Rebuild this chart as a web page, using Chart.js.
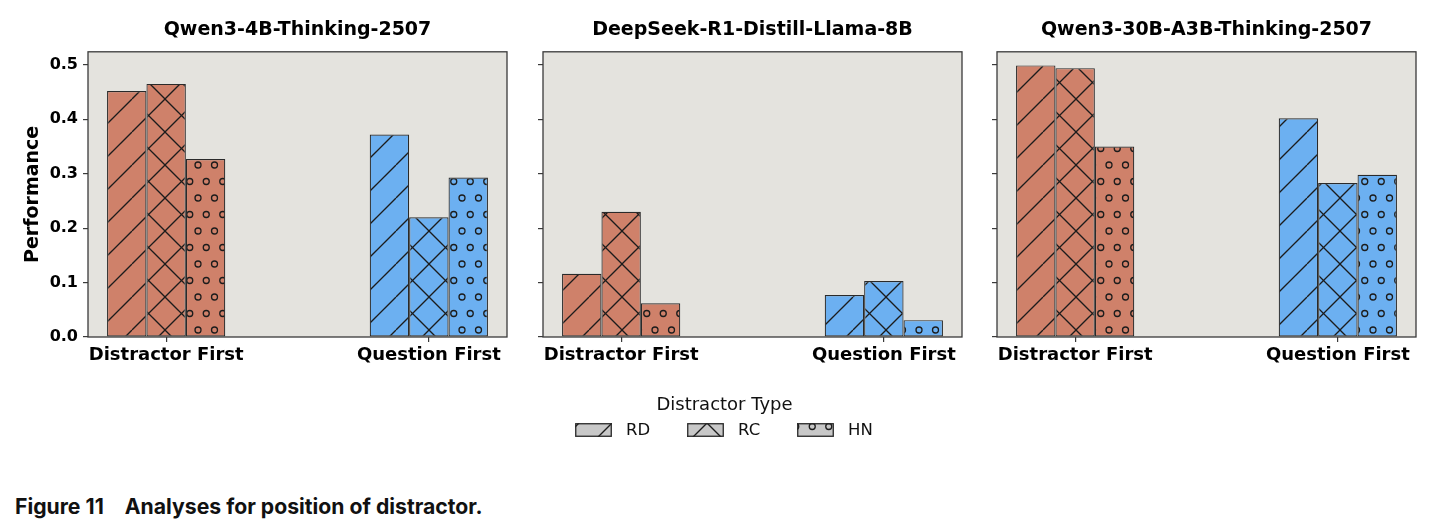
<!DOCTYPE html>
<html>
<head>
<meta charset="utf-8">
<script src="https://cdn.jsdelivr.net/npm/chart.js@4.4.1/dist/chart.umd.min.js"></script>
<style>
  html, body { margin: 0; padding: 0; background: #ffffff; }
  body { width: 1438px; height: 532px; position: relative; overflow: hidden; font-family: 'DejaVu Sans', sans-serif; }
  .panel { position: absolute; top: 0; }
  #legend { position: absolute; left: 0; top: 0; width: 1438px; height: 460px; pointer-events: none; }
  #legendTitle { position: absolute; top: 393px; left: 0; width: 1449px; text-align: center; font-size: 18px; color: #111; }
  .lgSw { position: absolute; top: 423px; }
  .lgLb { position: absolute; top: 420px; font-size: 16.5px; color: #111; }
  #caption { position: absolute; left: 15px; top: 493px; font-family: 'Inter', sans-serif; font-weight: 700; font-size: 21.2px; color: #111; white-space: nowrap; }
  #caption span.gap { display: inline-block; width: 16px; }
</style>
</head>
<body>
<canvas id="c1" class="panel" width="520" height="380" style="left:0px"></canvas>
<canvas id="c2" class="panel" width="452" height="380" style="left:523px"></canvas>
<canvas id="c3" class="panel" width="452" height="380" style="left:977px"></canvas>
<div id="legend">
  <div id="legendTitle">Distractor Type</div>
</div>
<div id="caption">Figure 11<span class="gap"></span> Analyses for position of distractor.</div>
<script>
// ---------------- data ----------------
const categories = ['Distractor First', 'Question First'];
const distractorTypes = ['RD', 'RC', 'HN'];
const modelNames = ['Qwen3-4B-Thinking-2507', 'DeepSeek-R1-Distill-Llama-8B', 'Qwen3-30B-A3B-Thinking-2507'];

// values per distractor type [RD, RC, HN]
const qwen4bDistractorFirst  = [0.452, 0.465, 0.327];
const qwen4bQuestionFirst    = [0.372, 0.220, 0.293];
const llama8bDistractorFirst = [0.116, 0.230, 0.062];
const llama8bQuestionFirst   = [0.077, 0.103, 0.031];
const qwen30bDistractorFirst = [0.499, 0.494, 0.350];
const qwen30bQuestionFirst   = [0.402, 0.283, 0.298];

const yTicks = [0.0, 0.1, 0.2, 0.3, 0.4, 0.5];

// ---------------- styling ----------------
const hatches = ['/', 'x', 'o'];
const orange = '#cf816a';
const blue = '#6cb0f1';
const plotBg = '#e4e3de';
const frameColor = '#3a3a3a';

Chart.defaults.font.family = "'DejaVu Sans', sans-serif";
Chart.defaults.color = '#111';

function makePattern(fill, kind) {
  const S = 33;
  const c = document.createElement('canvas');
  c.width = S; c.height = S;
  const g = c.getContext('2d');
  g.fillStyle = fill;
  g.fillRect(0, 0, S, S);
  g.strokeStyle = '#1c1c1c';
  g.lineWidth = 1.3;
  if (kind === '/' || kind === 'x') {
    for (const o of [-S, 0, S]) {
      g.beginPath(); g.moveTo(o, S); g.lineTo(o + S, 0); g.stroke();
    }
  }
  if (kind === 'x') {
    for (const o of [-S, 0, S]) {
      g.beginPath(); g.moveTo(o, 0); g.lineTo(o + S, S); g.stroke();
    }
  }
  if (kind === 'o') {
    const pts = [[0, 0], [16.5, 0], [33, 0], [0, 33], [16.5, 33], [33, 33], [8.25, 16.5], [24.75, 16.5]];
    for (const [x, y] of pts) {
      g.beginPath(); g.arc(x, y, 3, 0, Math.PI * 2); g.stroke();
    }
  }
  return g.createPattern(c, 'repeat');
}

const framePlugin = {
  id: 'frame',
  beforeDraw(chart) {
    const a = chart.chartArea, ctx = chart.ctx;
    ctx.save();
    ctx.fillStyle = plotBg;
    ctx.fillRect(a.left, a.top, a.right - a.left, a.bottom - a.top);
    ctx.restore();
  },
  afterDraw(chart) {
    const a = chart.chartArea, ctx = chart.ctx;
    ctx.save();
    ctx.strokeStyle = frameColor;
    ctx.lineWidth = 1.3;
    ctx.strokeRect(a.left, a.top, a.right - a.left, a.bottom - a.top);
    ctx.restore();
  }
};

function buildChart(canvasId, title, dfVals, qfVals, showYLabels) {
  const datasets = distractorTypes.map((t, i) => ({
    label: t,
    data: categories.map((c, ci) => ({ x: ci, y: ci === 0 ? dfVals[i] : qfVals[i] })),
    backgroundColor: [makePattern(orange, hatches[i]), makePattern(blue, hatches[i])],
    borderColor: '#2a2a2a',
    borderWidth: 1.2,
    borderSkipped: false,
    categoryPercentage: 0.45,
    barPercentage: 1.0
  }));
  return new Chart(document.getElementById(canvasId), {
    type: 'bar',
    data: { datasets },
    plugins: [framePlugin],
    options: {
      responsive: false,
      animation: false,
      events: [],
      layout: { padding: { left: 0, right: 13, top: 0, bottom: 0 } },
      plugins: {
        legend: { display: false },
        tooltip: { enabled: false },
        title: {
          display: true,
          text: title,
          fullSize: false,
          color: '#000',
          font: { size: 19, weight: 'bold' },
          padding: { top: 19, bottom: 10 }
        }
      },
      scales: {
        x: {
          type: 'linear',
          min: -0.2975,
          max: 1.2975,
          offset: false,
          grid: { display: true, drawOnChartArea: false, drawTicks: true, tickLength: 5, tickColor: frameColor, offset: false, lineWidth: 1.2 },
          border: { display: false },
          afterBuildTicks(scale) { scale.ticks = categories.map((c, i) => ({ value: i })); },
          afterFit(scale) { scale.height = 43; },
          ticks: {
            autoSkip: false,
            maxRotation: 0,
            padding: 3,
            color: '#000',
            font: { size: 18, weight: 'bold' },
            callback: (v) => categories[Math.round(v)]
          }
        },
        y: {
          min: 0,
          max: 0.524,
          grid: { display: true, drawOnChartArea: false, drawTicks: true, tickLength: 5, tickColor: frameColor, lineWidth: 1.2 },
          border: { display: false },
          afterBuildTicks(scale) { scale.ticks = yTicks.map(v => ({ value: v })); },
          afterFit(scale) { scale.width = showYLabels ? 88 : 20; },
          ticks: {
            display: showYLabels,
            padding: 5,
            color: '#000',
            font: { size: 16, weight: 'bold' },
            callback: (v) => v.toFixed(1)
          },
          title: {
            display: showYLabels,
            text: 'Performance',
            color: '#000',
            font: { size: 19, weight: 'bold' },
            padding: { top: 21.5, bottom: 0 }
          }
        }
      }
    }
  });
}

buildChart('c1', modelNames[0], qwen4bDistractorFirst, qwen4bQuestionFirst, true);
buildChart('c2', modelNames[1], llama8bDistractorFirst, llama8bQuestionFirst, false);
buildChart('c3', modelNames[2], qwen30bDistractorFirst, qwen30bQuestionFirst, false);

// ---------------- figure legend ----------------
const legend = document.getElementById('legend');
const swX = [575, 687, 797];
const lbX = [626, 738, 848];
distractorTypes.forEach((t, i) => {
  const cv = document.createElement('canvas');
  cv.width = 37; cv.height = 14;
  cv.className = 'lgSw';
  cv.style.left = swX[i] + 'px';
  const g = cv.getContext('2d');
  const pat = makePattern('#c8c8c8', hatches[i]);
  g.save();
  g.translate(i === 0 ? 4 : (i === 1 ? 20 : 7), i === 2 ? -13 : 0);
  g.fillStyle = pat;
  g.fillRect(-40, -40, 120, 120);
  g.restore();
  g.strokeStyle = '#2a2a2a';
  g.lineWidth = 1.3;
  g.strokeRect(0.75, 0.75, 35.5, 12.5);
  legend.appendChild(cv);
  const lb = document.createElement('div');
  lb.className = 'lgLb';
  lb.style.left = lbX[i] + 'px';
  lb.textContent = t;
  legend.appendChild(lb);
});
</script>
</body>
</html>
